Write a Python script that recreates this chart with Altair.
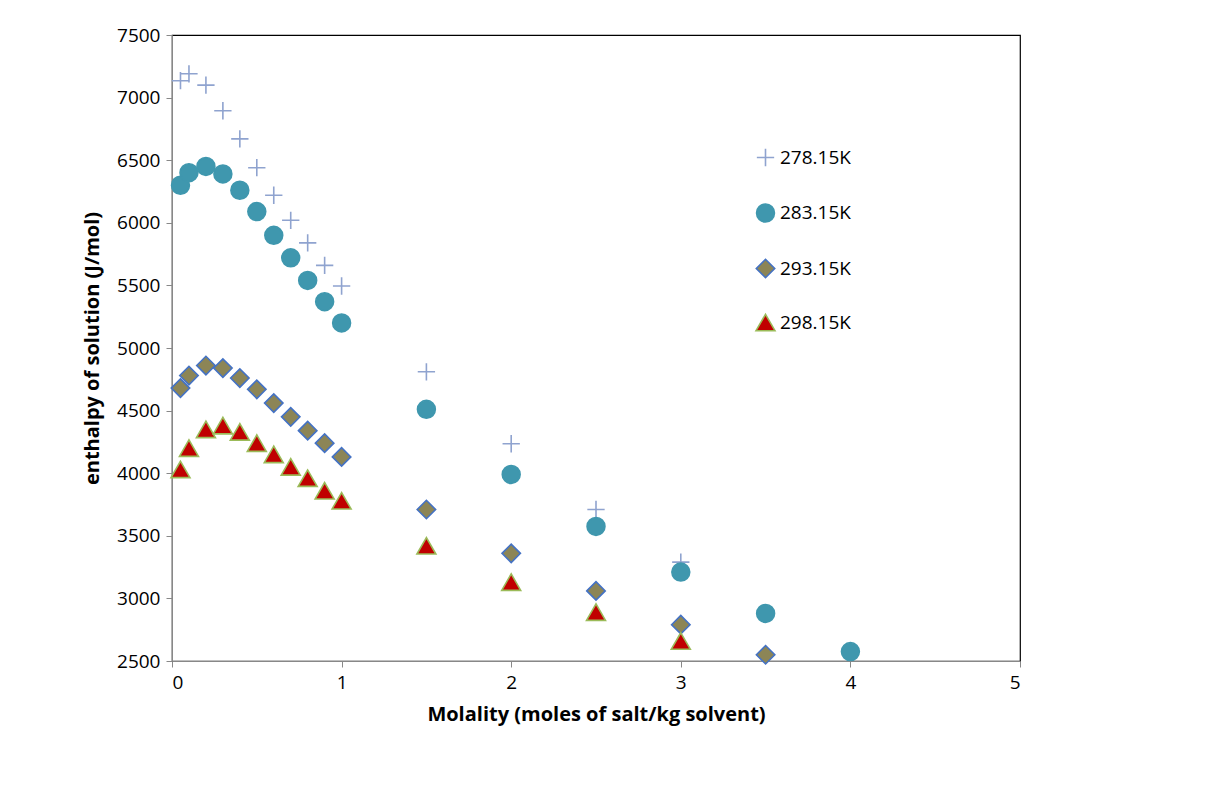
import altair as alt
import pandas as pd

x_low = [0.05, 0.1, 0.2, 0.3, 0.4, 0.5, 0.6, 0.7, 0.8, 0.9, 1.0]
x_high = [1.5, 2.0, 2.5, 3.0, 3.5, 4.0]

t278 = [7135, 7190, 7100, 6895, 6670, 6440, 6220, 6020, 5840, 5660, 5495, 4810, 4235, 3710, 3290]
t283 = [6300, 6400, 6450, 6390, 6260, 6090, 5900, 5720, 5540, 5370, 5200, 4510, 3990, 3575, 3210, 2880, 2575]
t293 = [4680, 4780, 4860, 4840, 4760, 4670, 4560, 4450, 4340, 4240, 4130, 3710, 3360, 3060, 2790, 2550]
t298 = [4030, 4200, 4350, 4380, 4330, 4240, 4150, 4050, 3960, 3860, 3780, 3420, 3130, 2890, 2660]

series = ["278.15K", "283.15K", "293.15K", "298.15K"]
xs = x_low + x_high
rows = []
for name, vals in zip(series, [t278, t283, t293, t298]):
    for m, h in zip(xs, vals):
        rows.append({"m": m, "h": h, "T": name})
df = pd.DataFrame(rows)

leg = alt.Legend(title=None, orient="none", legendX=583, legendY=113,
                 labelFontSize=19, labelFont="Open Sans", labelColor="black",
                 rowPadding=30, symbolStrokeWidth=1.6)

chart = alt.Chart(df).mark_point(filled=False, strokeWidth=1.6, opacity=1).encode(
    x=alt.X("m:Q", scale=alt.Scale(domain=[0, 5], nice=False),
            axis=alt.Axis(values=[0, 1, 2, 3, 4, 5], title="Molality (moles of salt/kg solvent)")),
    y=alt.Y("h:Q", scale=alt.Scale(domain=[2500, 7500], nice=False, zero=False),
            axis=alt.Axis(values=list(range(2500, 7501, 500)), format="d",
                          title="enthalpy of solution (J/mol)")),
    shape=alt.Shape("T:N", scale=alt.Scale(domain=series,
                    range=["M-1,0H1M0,-1V1", "circle", "diamond", "triangle-up"]), legend=leg),
    fill=alt.Fill("T:N", scale=alt.Scale(domain=series,
                  range=["transparent", "#3F97AE", "#8C8556", "#C00000"]), legend=leg),
    stroke=alt.Stroke("T:N", scale=alt.Scale(domain=series,
                      range=["#8FA3CF", "#3F97AE", "#4472C4", "#9BBB59"]), legend=leg),
    size=alt.Size("T:N", scale=alt.Scale(domain=series, range=[300, 360, 200, 230]), legend=leg),
).properties(
    width=848, height=626,
    autosize=alt.AutoSizeParams(type="none"),
    padding={"left": 164, "top": 27, "right": 180, "bottom": 120},
).configure_view(
    stroke="black", strokeWidth=1.2
).configure_axis(
    grid=False, domainColor="#888888", tickColor="#888888", tickSize=6,
    labelFontSize=19, labelFont="Open Sans", labelColor="black", labelPadding=6,
    titleFontSize=20, titleFont="Open Sans", titleColor="black", titleFontWeight="bold",
).configure_axisY(titlePadding=14).configure_axisX(titlePadding=12)

chart.save("out.html", embed_options={"renderer": "svg", "actions": False})
